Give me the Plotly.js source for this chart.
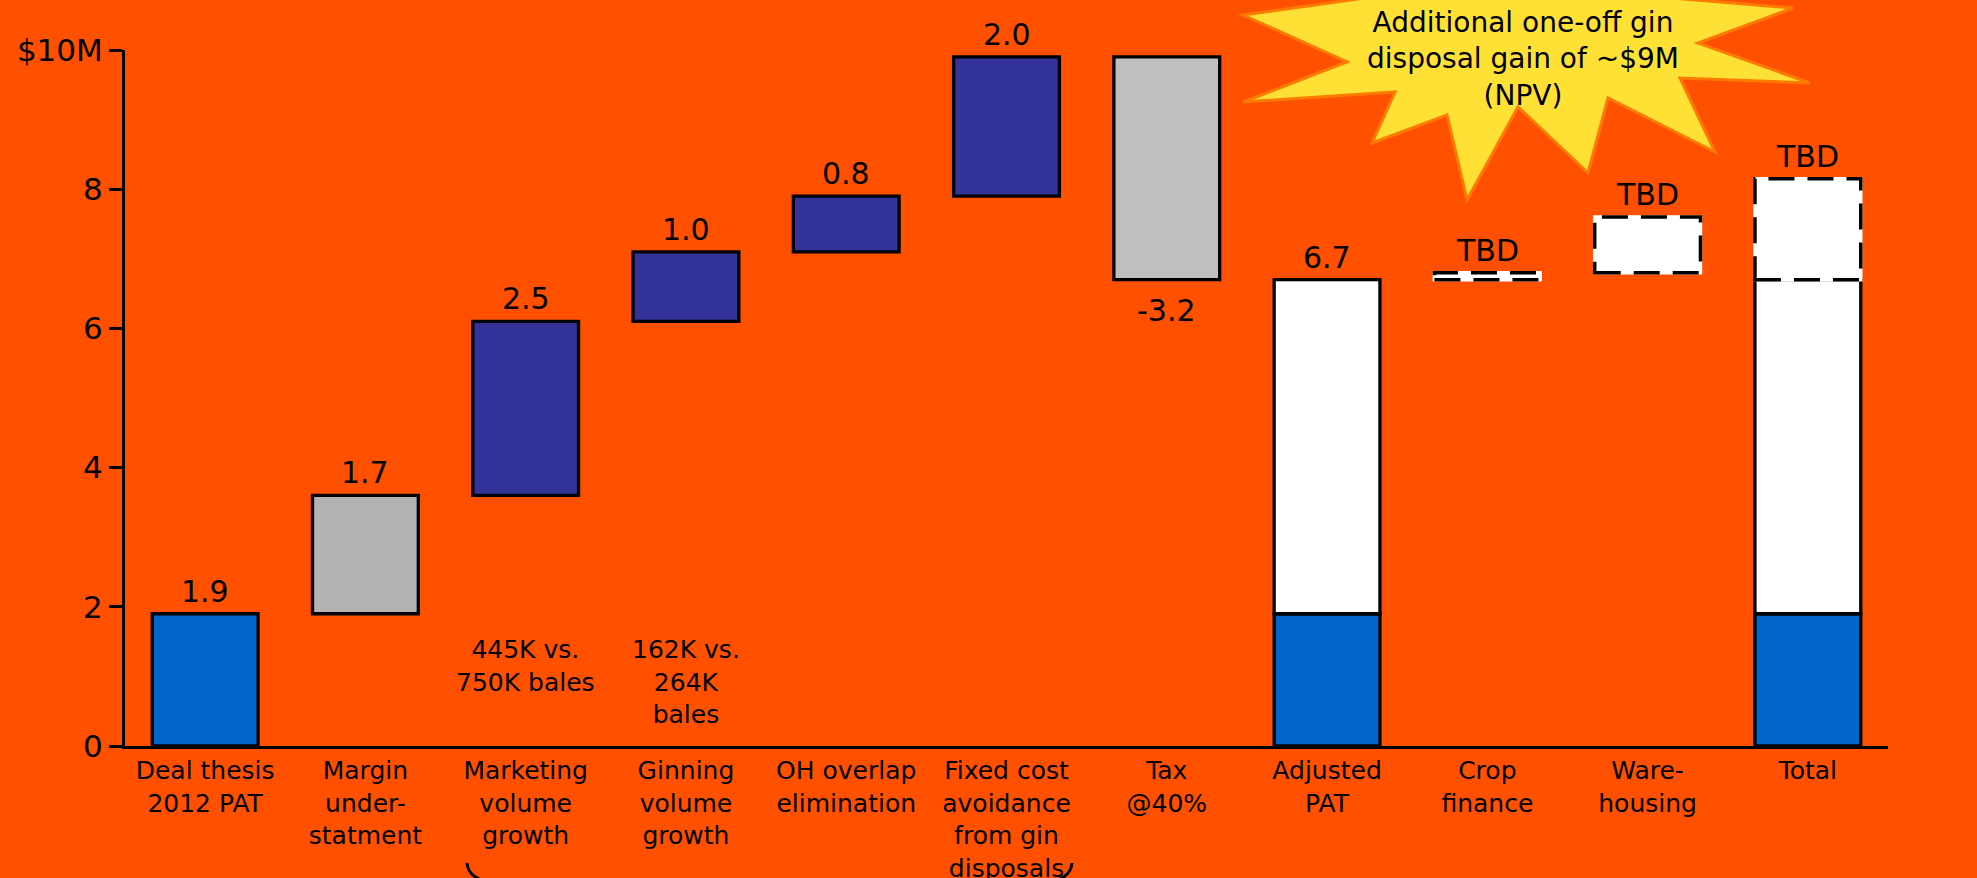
<!DOCTYPE html>
<html>
<head>
<meta charset="utf-8">
<script src="https://cdn.plot.ly/plotly-3.0.1.min.js"></script>
<style>
  html, body { margin: 0; padding: 0; background: #FF5000; }
  #chart { width: 1977px; height: 878px; }
</style>
</head>
<body>
<div id="chart"></div>
<script>
// ---- data ($M) ----
const categories = [
  'Deal thesis<br>2012 PAT',
  'Margin<br>under-<br>statment',
  'Marketing<br>volume<br>growth',
  'Ginning<br>volume<br>growth',
  'OH overlap<br>elimination',
  'Fixed cost<br>avoidance<br>from gin<br>disposals',
  'Tax<br>@40%',
  'Adjusted<br>PAT',
  'Crop<br>finance',
  'Ware-<br>housing',
  'Total'
];
// waterfall steps from the 2012 PAT to the adjusted PAT
const steps = [1.9, 1.7, 2.5, 1.0, 0.8, 2.0, -3.2];
const stepNotes = ['', '', '445K vs.<br>750K bales', '162K vs.<br>264K<br>bales', '', '', ''];
// upside items still to be sized
const tbdSteps = [0.1, 0.8];      // crop finance, warehousing
const totalTbd = 1.45;
const tbdLabel = 'TBD';
const yTickVals = [0, 2, 4, 6, 8, 10];
const yTickText = ['0', '2', '4', '6', '8', '$10M'];
const calloutText = 'Additional one-off gin<br>disposal gain of ~$9M<br>(NPV)';

// ---- styles ----
const stepFill = ['#0066CC', '#B3B3B3', '#333399', '#333399', '#333399', '#333399', '#BFBFBF'];
const BLUE = '#0066CC', BG = '#FF5000';
const FONT = 'DejaVu Sans, Verdana, sans-serif';

// ---- geometry ----
const W = 1977, H = 878;
const M = { l: 125, r: 89, t: 50, b: 132 };
const plotW = W - M.l - M.r, plotH = H - M.t - M.b;
const px = x => (x - M.l) / plotW;          // pixel -> paper x
const py = y => (H - M.b - y) / plotH;      // pixel -> paper y
const BAR_W = 0.66;

// ---- waterfall layout ----
const bases = [], tops = [];
let run = 0;
steps.forEach(s => { bases.push(run); run += s; tops.push(run); });
const adjusted = Math.round(run * 10) / 10;
const startVal = steps[0];
const iAdj = steps.length, iCrop = iAdj + 1, iWare = iAdj + 2, iTotal = iAdj + 3;
const tbdX = [iCrop, iWare, iTotal];
const tbdBase = [adjusted, adjusted + tbdSteps[0], adjusted];
const tbdVal = [tbdSteps[0], tbdSteps[1], totalTbd];

const outline = { color: '#000', width: 3.3 };
function bars(xs, bs, ys, color, line) {
  return {
    type: 'bar', x: xs, base: bs, y: ys, width: BAR_W,
    marker: { color: color, line: line || outline },
    hoverinfo: 'skip', showlegend: false, cliponaxis: false
  };
}

const traces = [
  bars(steps.map((_, i) => i), bases, steps, stepFill),
  bars([iAdj, iTotal], [0, 0], [startVal, startVal], BLUE),
  bars([iAdj, iTotal], [startVal, startVal], [adjusted - startVal, adjusted - startVal], '#FFFFFF'),
  bars(tbdX, tbdBase, tbdVal, '#FFFFFF', { color: '#FFFFFF', width: 3.5 })
];

// ---- labels ----
const valueFont = { family: FONT, size: 30, color: '#000' };
const noteFont = { family: FONT, size: 25, color: '#000' };
const calloutFont = { family: FONT, size: 28, color: '#000' };
const annotations = [];
steps.forEach((s, i) => {
  const pos = s >= 0;
  annotations.push({
    x: i, y: tops[i], xref: 'x', yref: 'y', text: s.toFixed(1), showarrow: false,
    yanchor: pos ? 'bottom' : 'top', yshift: pos ? 3 : -11, font: valueFont
  });
  if (stepNotes[i]) {
    annotations.push({
      x: i, y: 1.63, xref: 'x', yref: 'y', text: stepNotes[i], showarrow: false,
      yanchor: 'top', align: 'center', font: noteFont
    });
  }
});
annotations.push({
  x: iAdj, y: adjusted, xref: 'x', yref: 'y', text: adjusted.toFixed(1), showarrow: false,
  yanchor: 'bottom', yshift: 3, font: valueFont
});
tbdX.forEach((x, k) => {
  annotations.push({
    x: x, y: tbdBase[k] + tbdVal[k], xref: 'x', yref: 'y', text: tbdLabel, showarrow: false,
    yanchor: 'bottom', yshift: 3, font: valueFont
  });
});
annotations.push({
  x: px(1523), y: py(4), xref: 'paper', yref: 'paper', text: calloutText, showarrow: false,
  xanchor: 'center', yanchor: 'top', align: 'center', font: calloutFont
});

// ---- shapes: dashed outlines for the unsized items, callout star, brace ends ----
const shapes = [];
tbdX.forEach((x, k) => {
  shapes.push({
    type: 'rect', xref: 'x', yref: 'y',
    x0: x - BAR_W / 2, x1: x + BAR_W / 2, y0: tbdBase[k], y1: tbdBase[k] + tbdVal[k],
    line: { color: '#000', width: 3.5, dash: '26px,13px' }, fillcolor: 'rgba(0,0,0,0)'
  });
});

function pathFrom(pts, close) {
  return pts.map((p, i) => (i ? 'L' : 'M') + px(p[0]).toFixed(5) + ',' + py(p[1]).toFixed(5)).join(' ') + (close ? ' Z' : '');
}
const star = [
  [1243, 15], [1372, -3], [1415, -60], [1520, -8], [1600, -60], [1672, -2],
  [1793, 8], [1698, 43], [1810, 83], [1680, 78], [1715, 152], [1608, 98],
  [1588, 173], [1518, 107], [1467, 200], [1447, 115], [1372, 143], [1395, 92],
  [1243, 102], [1347, 62]
];
shapes.push({
  type: 'path', xref: 'paper', yref: 'paper', path: pathFrom(star, true),
  fillcolor: '#FFE135', line: { color: '#FF7A00', width: 3 }, layer: 'above'
});

function curve(a, c, b) {
  return 'M' + px(a[0]) + ',' + py(a[1]) + ' Q' + px(c[0]) + ',' + py(c[1]) + ' ' + px(b[0]) + ',' + py(b[1]);
}
shapes.push({ type: 'path', xref: 'paper', yref: 'paper', path: curve([467, 863], [468, 877], [487, 882]), line: { color: '#000', width: 3 } });
shapes.push({ type: 'path', xref: 'paper', yref: 'paper', path: curve([1072, 863], [1071, 877], [1052, 882]), line: { color: '#000', width: 3 } });

const layout = {
  width: W, height: H,
  margin: M,
  paper_bgcolor: BG, plot_bgcolor: BG,
  barmode: 'overlay',
  showlegend: false,
  font: { family: FONT, color: '#000' },
  xaxis: {
    range: [-0.5, categories.length - 0.5],
    tickvals: categories.map((_, i) => i),
    ticktext: categories,
    ticks: '', showgrid: false, zeroline: false,
    showline: true, linecolor: '#000', linewidth: 3,
    tickfont: { family: FONT, size: 25, color: '#000' },
    fixedrange: true
  },
  yaxis: {
    range: [0, 10],
    tickvals: yTickVals, ticktext: yTickText,
    ticks: 'outside', ticklen: 13, tickwidth: 3, tickcolor: '#000',
    showgrid: false, zeroline: false,
    showline: true, linecolor: '#000', linewidth: 3,
    tickfont: { family: FONT, size: 31, color: '#000' },
    fixedrange: true
  },
  annotations: annotations,
  shapes: shapes
};

Plotly.newPlot('chart', traces, layout, { staticPlot: true });
</script>
</body>
</html>
